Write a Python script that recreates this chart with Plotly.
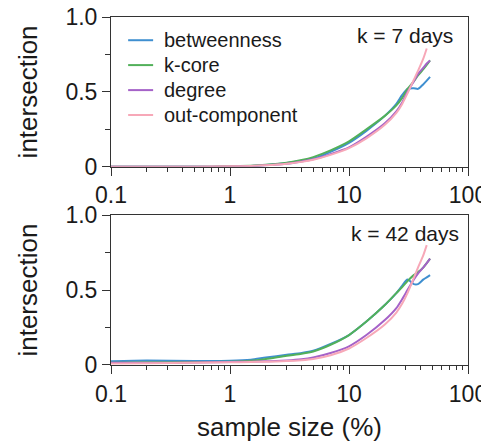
import plotly.graph_objects as go
from plotly.subplots import make_subplots

# sample size (%) grid
x_vals = [0.1, 0.2, 0.5, 1, 1.5, 2, 3, 4, 5, 7, 10, 14, 20, 25, 28, 31, 35, 38, 42, 45, 48]
x_pink = [0.1, 0.2, 0.5, 1, 1.5, 2, 3, 4, 5, 7, 10, 14, 20, 25, 28, 31, 35, 38, 42, 45]

# k = 7 days
btw_7 = [0, 0, 0, 0.002, 0.006, 0.012, 0.025, 0.04, 0.055, 0.10, 0.16, 0.24, 0.34, 0.42, 0.48, 0.52, 0.525, 0.52, 0.55, 0.575, 0.60]
kcore_7 = [0, 0, 0, 0.003, 0.007, 0.013, 0.027, 0.045, 0.065, 0.11, 0.17, 0.25, 0.34, 0.41, 0.46, 0.52, 0.57, 0.61, 0.65, 0.68, 0.71]
deg_7 = [0, 0, 0, 0.002, 0.005, 0.010, 0.020, 0.035, 0.050, 0.085, 0.13, 0.20, 0.29, 0.37, 0.43, 0.50, 0.57, 0.62, 0.66, 0.69, 0.71]
out_7 = [0, 0, 0, 0.003, 0.006, 0.010, 0.020, 0.033, 0.047, 0.08, 0.125, 0.19, 0.28, 0.36, 0.42, 0.49, 0.58, 0.64, 0.72, 0.79]

# k = 42 days
btw_42 = [0.025, 0.03, 0.027, 0.028, 0.035, 0.05, 0.068, 0.08, 0.095, 0.14, 0.20, 0.29, 0.40, 0.48, 0.53, 0.57, 0.54, 0.54, 0.57, 0.585, 0.60]
kcore_42 = [0.015, 0.018, 0.02, 0.022, 0.028, 0.04, 0.062, 0.075, 0.09, 0.135, 0.20, 0.29, 0.40, 0.48, 0.52, 0.56, 0.60, 0.62, 0.65, 0.68, 0.71]
deg_42 = [0.015, 0.015, 0.016, 0.02, 0.022, 0.025, 0.03, 0.038, 0.05, 0.08, 0.125, 0.20, 0.30, 0.38, 0.44, 0.50, 0.57, 0.61, 0.65, 0.68, 0.71]
out_42 = [0.01, 0.012, 0.015, 0.018, 0.02, 0.022, 0.026, 0.032, 0.04, 0.065, 0.11, 0.18, 0.27, 0.35, 0.41, 0.48, 0.58, 0.65, 0.73, 0.80]

names = ["betweenness", "k-core", "degree", "out-component"]
colors = ["#3f8fd0", "#52b05a", "#a562c8", "#f7a8b8"]

x_major = [0.1, 1, 10, 100]
x_major_text = ["0.1", "1", "10", "100"]
x_minor = [m * d for d in [0.1, 1, 10] for m in range(2, 10)]
y_major = [0, 0.5, 1.0]
y_major_text = ["0", "0.5", "1.0"]
y_minor = [0.25, 0.75]

panels = [
    ([btw_7, kcore_7, deg_7, out_7], "k = 7 days"),
    ([btw_42, kcore_42, deg_42, out_42], "k = 42 days"),
]

fig = make_subplots(rows=2, cols=1, vertical_spacing=0.139)

for r, (series, label) in enumerate(panels, start=1):
    for nm, col, ys in zip(names, colors, series):
        xs = x_pink if nm == "out-component" else x_vals
        fig.add_trace(
            go.Scatter(
                x=xs, y=ys, mode="lines", name=nm,
                line=dict(color=col, width=2, shape="spline", smoothing=0.6),
                showlegend=False,
            ),
            row=r, col=1,
        )

font_family = "Liberation Sans, Arial, sans-serif"
txt = "#1a1a1a"
axc = "#333333"

for r in (1, 2):
    fig.update_xaxes(
        type="log", range=[-1, 2], automargin=False, ticklabeloverflow="allow",
        tickmode="array", tickvals=x_major, ticktext=x_major_text,
        ticks="outside", ticklen=8, tickwidth=1, tickcolor=axc,
        minor=dict(tickmode="array", tickvals=x_minor, ticks="outside", ticklen=4, tickcolor=axc, showgrid=False),
        showline=True, linecolor=axc, linewidth=1, mirror=True,
        showgrid=False, zeroline=False,
        tickfont=dict(size=23, color=txt, family=font_family),
        row=r, col=1,
    )
    fig.update_yaxes(
        range=[0, 1], automargin=False, ticklabeloverflow="allow",
        tickmode="array", tickvals=y_major, ticktext=y_major_text,
        ticks="outside", ticklen=8, tickwidth=1, tickcolor=axc,
        minor=dict(tickmode="array", tickvals=y_minor, ticks="outside", ticklen=5, tickcolor=axc, showgrid=False),
        showline=True, linecolor=axc, linewidth=1, mirror=True,
        showgrid=False, zeroline=False,
        tickfont=dict(size=23, color=txt, family=font_family),
        title=dict(text="intersection", font=dict(size=26, color=txt, family=font_family), standoff=20),
        row=r, col=1,
    )

fig.update_xaxes(
    title=dict(text="sample size (%)", font=dict(size=26, color=txt, family=font_family), standoff=18),
    row=2, col=1,
)

# panel labels
fig.add_annotation(text="k = 7 days", xref="x domain", yref="y domain", x=0.963, y=0.878,
                   xanchor="right", yanchor="middle", showarrow=False,
                   font=dict(size=21, color=txt, family=font_family))
fig.add_annotation(text="k = 42 days", xref="x2 domain", yref="y2 domain", x=0.98, y=0.88,
                   xanchor="right", yanchor="middle", showarrow=False,
                   font=dict(size=21, color=txt, family=font_family))

# legend (line key + label) inside top panel
leg_rows = [0.845, 0.679, 0.512, 0.346]
for nm, col, yy in zip(names, colors, leg_rows):
    fig.add_shape(type="line", xref="x domain", yref="y domain",
                  x0=0.048, x1=0.118, y0=yy, y1=yy,
                  line=dict(color=col, width=2))
    fig.add_annotation(text=nm, xref="x domain", yref="y domain", x=0.143, y=yy,
                       xanchor="left", yanchor="middle", showarrow=False,
                       font=dict(size=20, color=txt, family=font_family))

# page body has an 8px margin: size the figure so the plot lands where the reference has it
fig.update_layout(
    width=481, height=434,
    margin=dict(l=103, r=21, t=9, b=77),
    paper_bgcolor="white", plot_bgcolor="white",
    font=dict(family=font_family, color=txt),
    showlegend=False,
)

fig.write_html("out.html")
